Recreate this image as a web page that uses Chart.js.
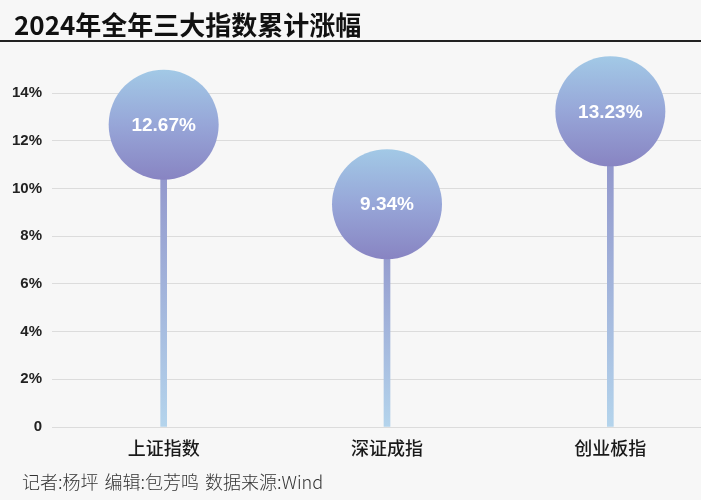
<!DOCTYPE html>
<html>
<head>
<meta charset="utf-8">
<script src="https://cdn.jsdelivr.net/npm/chart.js@4.4.1/dist/chart.umd.min.js"></script>
<style>
  html, body { margin: 0; padding: 0; background: #f7f7f7; width: 701px; height: 500px; overflow: hidden; }
  #wrap { position: relative; width: 701px; height: 500px; overflow: hidden; }
  #title { position: absolute; left: 14px; top: 6px; font: bold 26px "Noto Sans CJK SC", sans-serif; color: #111; line-height: 36px; white-space: nowrap; }
  #rule { position: absolute; left: 0; top: 40px; width: 701px; height: 2px; background: #222; }
  #footer { position: absolute; left: 22px; top: 469px; font: 300 18px "Noto Sans CJK SC", sans-serif; color: #333; line-height: 24px; white-space: nowrap; word-spacing: 2px; }
  #cv { position: absolute; left: 0; top: 0; }
</style>
</head>
<body>
<div id="wrap">
  <canvas id="cv" width="722" height="500" style="width:722px;height:500px"></canvas>
  <div id="title">2024年全年三大指数累计涨幅</div>
  <div id="rule"></div>
  <div id="footer">记者:杨坪 编辑:包芳鸣 数据来源:Wind</div>
</div>
<script>
const categories = ["上证指数", "深证成指", "创业板指"];
const values = [12.67, 9.34, 13.23];
const valueLabels = ["12.67%", "9.34%", "13.23%"];
const yTicks = [0, 2, 4, 6, 8, 10, 12, 14];

const R = 55;

function circleFill(ctx) {
  const chart = ctx.chart;
  if (!chart.chartArea || ctx.raw === undefined) return '#98a4d6';
  const y = chart.scales.y.getPixelForValue(ctx.parsed ? ctx.parsed.y : ctx.raw);
  const g = chart.ctx.createLinearGradient(0, y - R, 0, y + R);
  g.addColorStop(0, '#a2c9e6');
  g.addColorStop(0.5, '#97a6d8');
  g.addColorStop(1, '#8884c2');
  return g;
}
function stemFill(ctx) {
  const chart = ctx.chart;
  if (!chart.chartArea || ctx.raw === undefined) return '#9fb0da';
  const y = chart.scales.y.getPixelForValue(ctx.parsed ? ctx.parsed.y : ctx.raw);
  const g = chart.ctx.createLinearGradient(0, chart.chartArea.bottom, 0, y);
  g.addColorStop(0, '#b4d4ec');
  g.addColorStop(1, '#8c8cc6');
  return g;
}

const labelPlugin = {
  id: 'bubbleLabels',
  afterDatasetsDraw(chart) {
    const meta = chart.getDatasetMeta(0);
    const c = chart.ctx;
    c.save();
    c.fillStyle = '#ffffff';
    c.font = 'bold 19px "Liberation Sans", Arial, sans-serif';
    c.textAlign = 'center';
    c.textBaseline = 'middle';
    meta.data.forEach((pt, i) => {
      c.fillText(valueLabels[i], pt.x, pt.y + 1);
    });
    c.restore();
  }
};

new Chart(document.getElementById('cv'), {
  data: {
    labels: categories,
    datasets: [
      {
        type: 'line',
        data: values,
        showLine: false,
        pointRadius: R,
        pointHoverRadius: R,
        pointBorderWidth: 0,
        pointBackgroundColor: circleFill,
        pointBorderColor: 'rgba(0,0,0,0)',
        clip: false,
        order: 1
      },
      {
        type: 'bar',
        data: values,
        barThickness: 6,
        backgroundColor: stemFill,
        borderWidth: 0,
        order: 2
      }
    ]
  },
  options: {
    responsive: false,
    animation: false,
    events: [],
    layout: { autoPadding: false, padding: { top: 93, right: 0, bottom: 33, left: 0 } },
    plugins: { legend: { display: false }, tooltip: { enabled: false } },
    scales: {
      x: {
        offset: true,
        grid: { display: false, drawTicks: false },
        border: { display: false },
        ticks: {
          padding: 10,
          color: '#1a1a1a',
          font: { family: '"Noto Sans CJK SC", sans-serif', size: 18, weight: '500' }
        },
        afterFit(scale) { scale.height = 40; }
      },
      y: {
        min: 0,
        max: 14,
        afterBuildTicks(scale) { scale.ticks = yTicks.map(v => ({ value: v })); },
        grid: { color: '#dcdcdc', lineWidth: 1, drawTicks: false },
        border: { display: false },
        ticks: {
          padding: 10,
          color: '#222',
          font: { family: '"Liberation Sans", Arial, sans-serif', size: 15, weight: 'bold' },
          callback: (v) => v === 0 ? '0' : v + '%'
        },
        afterFit(scale) { scale.width = 52; }
      }
    }
  },
  plugins: [labelPlugin]
});
</script>
</body>
</html>
